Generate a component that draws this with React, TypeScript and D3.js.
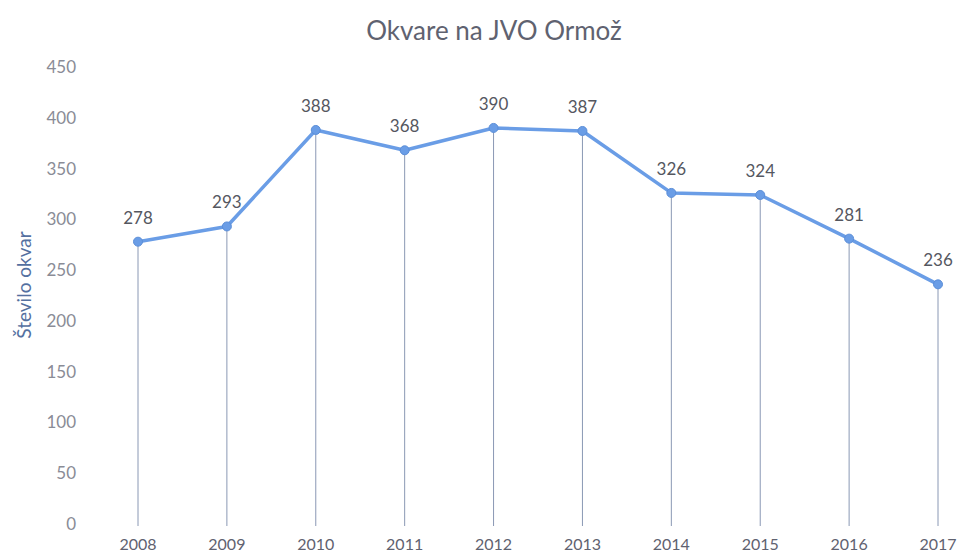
import React from "react";
import * as d3 from "d3";

const years = ["2008", "2009", "2010", "2011", "2012", "2013", "2014", "2015", "2016", "2017"];
const failures = [278, 293, 388, 368, 390, 387, 326, 324, 281, 236];
const yTicks = [0, 50, 100, 150, 200, 250, 300, 350, 400, 450];

const width = 961;
const height = 556;
const font = "Lato, 'Open Sans', sans-serif";
const lineColor = "#6a9de6";

const App = () => {
  const x = d3.scalePoint().domain(years).range([138, 938]);
  const y = d3.scaleLinear().domain([0, 450]).range([524, 67]);

  const line = d3
    .line<number>()
    .x((d, i) => x(years[i]) as number)
    .y((d) => y(d));

  return (
    <svg
      width={width}
      height={height}
      style={{ position: "absolute", left: 0, top: 0, background: "#fff" }}
    >
      {/* title */}
      <text
        x={494}
        y={40}
        textAnchor="middle"
        fontFamily={font}
        fontSize={26}
        fill="#5f6270"
      >
        Okvare na JVO Ormož
      </text>

      {/* y axis title */}
      <text
        transform="translate(31, 285) rotate(-90)"
        textAnchor="middle"
        fontFamily={font}
        fontSize={19}
        fill="#5470a0"
      >
        Število okvar
      </text>

      {/* y tick labels */}
      {yTicks.map((t) => (
        <text
          key={t}
          x={76}
          y={y(t)}
          dy="0.35em"
          textAnchor="end"
          fontFamily={font}
          fontSize={17}
          fill="#8a8c96"
        >
          {t}
        </text>
      ))}

      {/* x tick labels */}
      {years.map((yr) => (
        <text
          key={yr}
          x={x(yr)}
          y={550}
          textAnchor="middle"
          fontFamily={font}
          fontSize={16}
          fill="#5f6270"
        >
          {yr}
        </text>
      ))}

      {/* drop lines */}
      {failures.map((v, i) => (
        <line
          key={years[i]}
          x1={x(years[i])}
          x2={x(years[i])}
          y1={y(v)}
          y2={y(0) + 2}
          stroke="#8a98b4"
          strokeWidth={1}
        />
      ))}

      {/* series line */}
      <path
        d={line(failures) ?? ""}
        fill="none"
        stroke={lineColor}
        strokeWidth={3.5}
        strokeLinejoin="round"
      />

      {failures.map((v, i) => (
        <circle
          key={years[i]}
          cx={x(years[i])}
          cy={y(v)}
          r={4.5}
          fill={lineColor}
          stroke="#5b8ed8"
          strokeWidth={1}
        />
      ))}

      {/* data labels */}
      {failures.map((v, i) => (
        <text
          key={years[i]}
          x={x(years[i])}
          y={y(v) - 18}
          textAnchor="middle"
          fontFamily={font}
          fontSize={17}
          fill="#55575f"
        >
          {v}
        </text>
      ))}
    </svg>
  );
};

export default App;
